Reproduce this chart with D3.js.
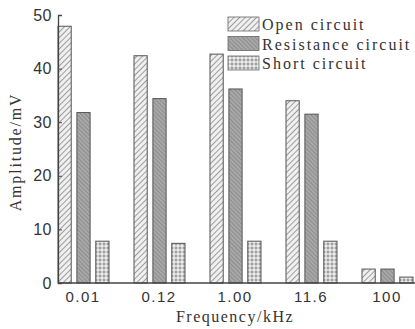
<!DOCTYPE html>
<html>
<head>
<meta charset="utf-8">
<script src="https://cdn.jsdelivr.net/npm/d3@7"></script>
<style>
  body { margin: 0; background: #fff; }
  svg { display: block; font-family: "Liberation Serif", "Times New Roman", serif; }
</style>
</head>
<body>
<div id="chart"></div>
<script>
const categories = ["0.01", "0.12", "1.00", "11.6", "100"];
const seriesNames = ["Open circuit", "Resistance circuit", "Short circuit"];
const openCircuit = [47.9, 42.4, 42.7, 34.0, 2.6];
const resistanceCircuit = [31.8, 34.4, 36.2, 31.5, 2.6];
const shortCircuit = [7.8, 7.4, 7.8, 7.8, 1.1];
const yTicks = [0, 10, 20, 30, 40, 50];

const width = 415, height = 329;
const margin = {top: 15, right: 0, bottom: 46, left: 58};
const series = [openCircuit, resistanceCircuit, shortCircuit];

const svg = d3.select("#chart").append("svg")
  .attr("width", width)
  .attr("height", height);

// fill patterns
const defs = svg.append("defs");
const p1 = defs.append("pattern").attr("id", "pat0")
  .attr("patternUnits", "userSpaceOnUse").attr("width", 4).attr("height", 4)
  .attr("patternTransform", "rotate(45)");
p1.append("rect").attr("width", 4).attr("height", 4).attr("fill", "#f0f0f0");
p1.append("line").attr("x1", 0).attr("y1", 0).attr("x2", 0).attr("y2", 4)
  .attr("stroke", "#888").attr("stroke-width", 1.6);

const p2 = defs.append("pattern").attr("id", "pat1")
  .attr("patternUnits", "userSpaceOnUse").attr("width", 3).attr("height", 3)
  .attr("patternTransform", "rotate(-45)");
p2.append("rect").attr("width", 3).attr("height", 3).attr("fill", "#a8a8a8");
p2.append("line").attr("x1", 0).attr("y1", 0).attr("x2", 0).attr("y2", 3)
  .attr("stroke", "#7a7a7a").attr("stroke-width", 1.2);

const p3 = defs.append("pattern").attr("id", "pat2")
  .attr("patternUnits", "userSpaceOnUse").attr("width", 4).attr("height", 4);
p3.append("rect").attr("width", 4).attr("height", 4).attr("fill", "#d0d0d0");
p3.append("circle").attr("cx", 2).attr("cy", 2).attr("r", 1.1).attr("fill", "#f4f4f4");
[[0, 0], [4, 4], [4, 0], [0, 4]].forEach(([cx, cy]) => {
  p3.append("circle").attr("cx", cx).attr("cy", cy).attr("r", 0.9).attr("fill", "#888");
});

const x = d3.scaleBand()
  .domain(categories)
  .range([45, 425])
  .padding(0);

const xs = d3.scaleBand()
  .domain(d3.range(series.length))
  .range([-25, 26])
  .paddingInner(0.3);

const y = d3.scaleLinear()
  .domain([0, 50])
  .range([height - margin.bottom, margin.top]);

// bars
series.forEach((vals, si) => {
  svg.append("g").selectAll("rect")
    .data(vals)
    .join("rect")
    .attr("x", (d, i) => x(categories[i]) + x.bandwidth() / 2 + xs(si))
    .attr("y", d => y(d))
    .attr("width", xs.bandwidth())
    .attr("height", d => y(0) - y(d))
    .attr("fill", `url(#pat${si})`)
    .attr("stroke", "#555")
    .attr("stroke-width", 1);
});

// axes
const yAxis = svg.append("g")
  .attr("transform", `translate(${margin.left},0)`)
  .call(d3.axisLeft(y).tickValues(yTicks).tickSize(-4).tickPadding(6));
yAxis.select(".domain").attr("stroke", "#444").attr("stroke-width", 1.3);
yAxis.selectAll(".tick line").attr("stroke", "#444");
yAxis.selectAll("text")
  .style("font-size", "16px")
  .style("letter-spacing", "0.5px")
  .attr("fill", "#333");

const xAxis = svg.append("g")
  .attr("transform", `translate(0,${y(0)})`)
  .call(d3.axisBottom(x).tickSize(0).tickPadding(8));
xAxis.select(".domain").attr("stroke", "#444").attr("stroke-width", 1.3)
  .attr("d", `M${margin.left},0H${width}`);
xAxis.selectAll("text")
  .style("font-size", "15px")
  .style("letter-spacing", "1.5px")
  .attr("fill", "#333");

svg.append("text")
  .attr("x", 235).attr("y", 322)
  .attr("text-anchor", "middle")
  .style("font-size", "16px")
  .style("letter-spacing", "1.5px")
  .attr("fill", "#333")
  .text("Frequency/kHz");

svg.append("text")
  .attr("transform", "translate(21,152) rotate(-90)")
  .attr("text-anchor", "middle")
  .style("font-size", "16px")
  .style("letter-spacing", "1.8px")
  .attr("fill", "#333")
  .text("Amplitude/mV");

// legend
const legend = svg.append("g").attr("transform", "translate(228,17)");
seriesNames.forEach((name, i) => {
  const row = legend.append("g").attr("transform", `translate(0,${i * 19.5})`);
  row.append("rect")
    .attr("width", 31).attr("height", 14)
    .attr("fill", `url(#pat${i})`)
    .attr("stroke", "#666").attr("stroke-width", 0.8);
  row.append("text")
    .attr("x", 34).attr("y", 13)
    .style("font-size", "16px")
    .style("letter-spacing", "2px")
    .attr("fill", "#333")
    .text(name);
});
</script>
</body>
</html>
